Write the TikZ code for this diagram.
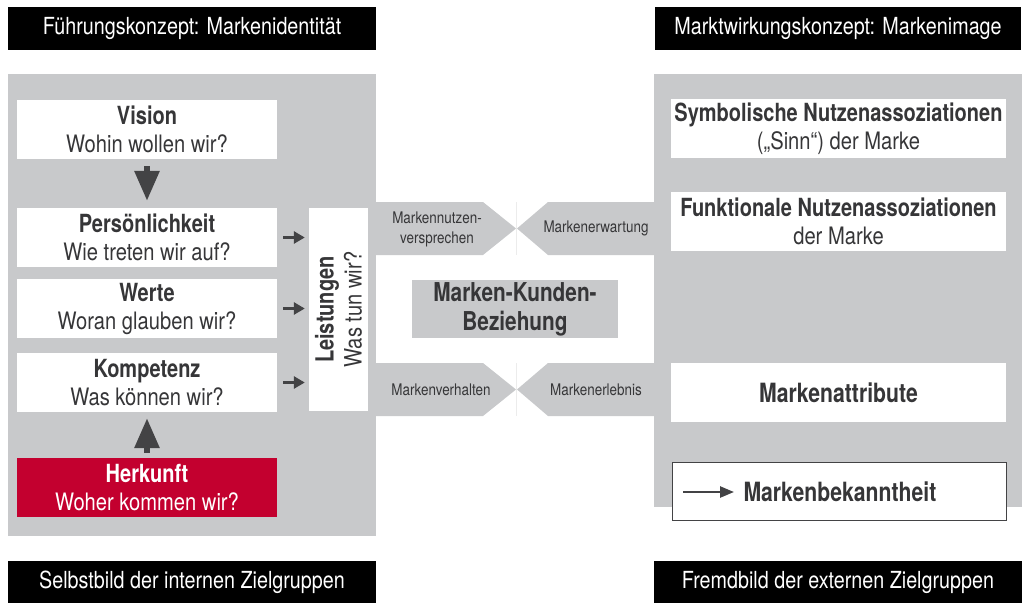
\documentclass[tikz,border=0pt]{standalone}
\usepackage{fontspec}
\setmainfont{TeX Gyre Heros}[FakeStretch=0.84, BoldFeatures={FakeStretch=0.80}]
\usetikzlibrary{arrows.meta}
\definecolor{panelgray}{HTML}{C8C9CB}
\definecolor{txtgray}{HTML}{363638}
\definecolor{brandred}{HTML}{C3002F}
\definecolor{arrowgray}{HTML}{434345}
\newcommand{\hdline}[1]{{\fontsize{25}{28}\selectfont\bfseries #1}}
\tikzset{
  titlebar/.style={fill=black, text=white, inner sep=0pt, font=\fontsize{23.5}{26}\selectfont},
  wbox/.style={fill=white, text=txtgray, inner sep=0pt, align=center, font=\fontsize{24}{28}\selectfont},
  redbox/.style={fill=brandred, text=white, inner sep=0pt, align=center, font=\fontsize{24}{28}\selectfont},
  bandlabel/.style={text=txtgray, inner sep=0pt, align=center, font=\fontsize{16}{20}\selectfont},
  bigarrow/.style={draw=arrowgray, line width=6pt, -{Triangle[length=30pt,width=24pt]}},
  smallarrow/.style={draw=arrowgray, line width=3pt, -{Triangle[length=11pt,width=12pt]}},
  keyarrow/.style={draw=arrowgray, line width=2.5pt, -{Triangle[length=14pt,width=11pt]}},
}
\begin{document}
\begin{tikzpicture}[x=1pt,y=-1pt]
\useasboundingbox (0,0) rectangle (1030,613);
% title bars
\node[titlebar, minimum width=368, minimum height=43] (tl) at (192,28.5) {Führungskonzept: Markenidentität};
\node[titlebar, minimum width=366, minimum height=43] (tr) at (838,28.5) {Marktwirkungskonzept: Markenimage};
\node[titlebar, minimum width=368, minimum height=42] (bl) at (192,582) {Selbstbild der internen Zielgruppen};
\node[titlebar, minimum width=368, minimum height=42] (br) at (838,582) {Fremdbild der externen Zielgruppen};
% panels
\fill[panelgray] (8,74) rectangle (376,536);
\fill[panelgray] (654,74) rectangle (1022,507);
% bands
\fill[panelgray] (375,202) -- (483,202) -- (516,228.5) -- (483,255) -- (375,255) -- cycle;
\fill[panelgray] (655,202) -- (548,202) -- (517,228.5) -- (548,255) -- (655,255) -- cycle;
\fill[panelgray] (375,363) -- (483,363) -- (516,389.5) -- (483,416) -- (375,416) -- cycle;
\fill[panelgray] (655,363) -- (548,363) -- (517,389.5) -- (548,416) -- (655,416) -- cycle;
\draw[gray!15, line width=0.6pt] (516.5,202) -- (516.5,255);
\draw[gray!15, line width=0.6pt] (516.5,363) -- (516.5,416);
\node[bandlabel] (nutzen) at (437,229) {Markennutzen-\\versprechen};
\node[bandlabel] (erwartung) at (596,228) {Markenerwartung};
\node[bandlabel] (verhalten) at (441,390) {Markenverhalten};
\node[bandlabel] (erlebnis) at (596,390) {Markenerlebnis};
% left boxes
\node[wbox, minimum width=260, minimum height=59] (vision) at (147,129.5) {\hdline{Vision}\\Wohin wollen wir?};
\node[wbox, minimum width=260, minimum height=59] (pers) at (147,237.5) {\hdline{Persönlichkeit}\\Wie treten wir auf?};
\node[wbox, minimum width=260, minimum height=59] (werte) at (147,308.5) {\hdline{Werte}\\Woran glauben wir?};
\node[wbox, minimum width=260, minimum height=59] (komp) at (147,382.5) {\hdline{Kompetenz}\\Was können wir?};
\node[redbox, minimum width=260, minimum height=59] (herk) at (147,487.5) {\hdline{Herkunft}\\Woher kommen wir?};
% Leistungen
\node[wbox, minimum width=203, minimum height=59, rotate=90] (leist) at (338.5,309.5) {\hdline{Leistungen}\\Was tun wir?};
% middle
\node[fill=panelgray, text=txtgray, inner sep=0pt, align=center, minimum width=206, minimum height=58, font=\fontsize{26}{29}\selectfont\bfseries] (mkb) at (515,309) {Marken-Kunden-\\Beziehung};
% right boxes
\node[wbox, minimum width=335, minimum height=59] (symb) at (838.5,128.5) {\hdline{Symbolische Nutzenassoziationen}\\(„Sinn“) der Marke};
\node[wbox, minimum width=335, minimum height=59] (funk) at (838.5,221.5) {\hdline{Funktionale Nutzenassoziationen}\\der Marke};
\node[wbox, minimum width=335, minimum height=59, font=\fontsize{26.5}{28}\selectfont\bfseries] (attr) at (838.5,392.5) {Markenattribute};
\node[wbox, draw=arrowgray, line width=1.6pt, minimum width=334, minimum height=58, font=\fontsize{26.5}{28}\selectfont\bfseries, text width=334, align=left, inner xsep=0pt] (bek) at (839.5,491.5) {\hspace*{71pt}Markenbekanntheit};
\coordinate (bekA) at (683,492);
\coordinate (bekB) at (734,492);
\draw[keyarrow] (bekA) -- (bekB);
% arrows
\draw[bigarrow, shorten <=7pt, shorten >=7pt] (vision.south) -- (pers.north);
\draw[bigarrow, shorten <=5pt, shorten >=6pt] (herk.north) -- (komp.south);
\draw[smallarrow, shorten <=6pt, shorten >=4pt] (pers.east) -- (pers.east -| leist.north);
\draw[smallarrow, shorten <=6pt, shorten >=4pt] (werte.east) -- (werte.east -| leist.north);
\draw[smallarrow, shorten <=6pt, shorten >=4pt] (komp.east) -- (komp.east -| leist.north);
\end{tikzpicture}
\end{document}
